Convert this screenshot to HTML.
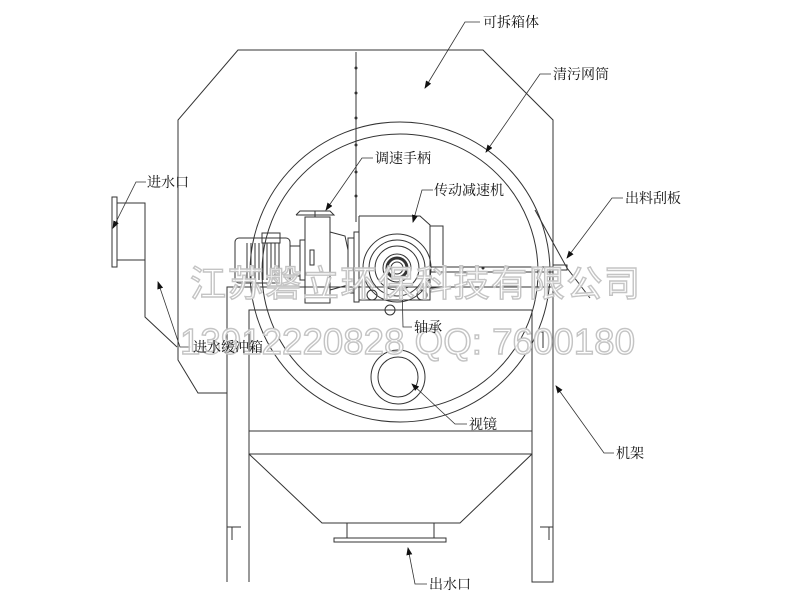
<!DOCTYPE html>
<html><head><meta charset="utf-8"><style>
html,body{margin:0;padding:0;background:#fff;}
svg{display:block;}
text{font-family:"Liberation Serif","Noto Serif CJK SC","Noto Sans CJK SC",serif;font-size:14px;fill:#111;}
text.wm{font-family:"Liberation Sans","Noto Sans CJK SC",sans-serif;fill:#fff;fill-opacity:0.85;stroke:#c4c4c4;stroke-width:1.4;font-size:36px;}
</style></head><body>
<svg width="800" height="600" viewBox="0 0 800 600" xmlns="http://www.w3.org/2000/svg">
<defs><marker id="a" markerWidth="8" markerHeight="6" refX="7" refY="3" orient="auto" markerUnits="userSpaceOnUse"><path d="M0,0 L8,3 L0,6 z" fill="#111"/></marker></defs>
<g fill="none" stroke="#333" stroke-width="1">
<polyline points="227,393 198,393 178,360 178,120 238,50 483,50 553,120 553,582 532,582 532,310"/>
<polyline points="227,582 227,287 553,287"/>
<polyline points="249,582 249,310 532,310"/>
<line x1="249" y1="431" x2="532" y2="431"/>
<polyline points="249,454 532,454"/>
<polyline points="249,454 322,523 460,523 532,454"/>
<rect x="347" y="523" width="87" height="15"/>
<rect x="334" y="538" width="112" height="4"/>
<polyline points="227,527 241,527"/><polyline points="232,527 232,540"/>
<polyline points="540,527 553,527"/><polyline points="549,527 549,540"/>
<polyline points="536,332 543,332 543,348"/>
<polyline points="140,203 145,203 145,317 177,347"/>
<rect x="117" y="203" width="28" height="57"/>
<rect x="112" y="197" width="5" height="70"/>
<circle cx="400" cy="272" r="150"/>
<circle cx="400" cy="272" r="138"/>
<circle cx="398" cy="377" r="27"/>
<circle cx="398" cy="377" r="20"/>
<line x1="356" y1="52" x2="356" y2="222"/>
<rect x="235" y="238" width="55" height="45" rx="4"/>
<rect x="262" y="233" width="18" height="10"/>
<line x1="247" y1="243" x2="247" y2="280"/>
<line x1="251" y1="243" x2="251" y2="280"/><line x1="255" y1="243" x2="255" y2="280"/>
<line x1="259" y1="243" x2="259" y2="280"/><line x1="263" y1="243" x2="263" y2="280"/>
<line x1="267" y1="243" x2="267" y2="280"/><line x1="271" y1="243" x2="271" y2="280"/>
<line x1="275" y1="243" x2="275" y2="280"/><line x1="279" y1="243" x2="279" y2="280"/>
<rect x="290" y="246" width="10" height="30"/>
<rect x="300" y="240" width="5" height="40"/>
<rect x="305" y="217" width="25" height="86"/>
<rect x="310" y="250" width="4" height="15"/>
<polyline points="296,215 300,211 330,211 334,215 296,215"/>
<line x1="315" y1="211" x2="315" y2="217"/>
<polyline points="330,232 345,236 348,250 348,285 330,290"/>
<rect x="348" y="238" width="6" height="55"/>
<rect x="354" y="232" width="5" height="70"/>
<polyline points="359,216 420,216 430,225 430,300 359,300 359,216"/>
<polyline points="430,226 443,226 443,288 430,288"/>
<circle cx="397" cy="268" r="34"/>
<circle cx="397" cy="268" r="28"/>
<circle cx="397" cy="268" r="22"/>
<circle cx="397" cy="268" r="14"/>
<circle cx="397" cy="268" r="10" stroke-width="3"/>
<circle cx="397" cy="268" r="6"/>
<circle cx="372" cy="295" r="5"/><circle cx="422" cy="295" r="5"/>
<circle cx="390" cy="310" r="5"/>
<line x1="430" y1="267" x2="553" y2="267"/>
<line x1="430" y1="272" x2="553" y2="272"/>
<rect x="553" y="265" width="14" height="5"/>
<polyline points="535,210 567,268 590,298"/>
</g>
<g fill="#333">
<circle cx="356" cy="68" r="1.5"/><circle cx="356" cy="93" r="1.5"/><circle cx="356" cy="118" r="1.5"/>
<circle cx="356" cy="145" r="1.5"/><circle cx="356" cy="172" r="1.5"/><circle cx="356" cy="196" r="1.5"/>
<circle cx="462" cy="268" r="1.5"/><circle cx="483" cy="268" r="1.5"/><circle cx="507" cy="268" r="1.5"/><circle cx="533" cy="268" r="1.5"/>
</g>
<g fill="none" stroke="#333" stroke-width="0.8" marker-end="url(#a)">
<polyline points="480,22 465,22 425,88"/>
<polyline points="551,74 540,74 486,152"/>
<polyline points="373,158 362,158 326,210"/>
<polyline points="433,190 422,190 413,222"/>
<polyline points="623,198 612,198 567,258"/>
<polyline points="146,182 136,182 113,228"/>
<polyline points="191,347 180,347 158,282"/>
<polyline points="412,327 403,327 402,284"/>
<polyline points="467,424 455,424 412,384"/>
<polyline points="614,453 604,453 556,386"/>
<polyline points="427,584 415,584 408,548"/>
</g>
<text x="483" y="27">可拆箱体</text>
<text x="553" y="79">清污网筒</text>
<text x="375" y="163">调速手柄</text>
<text x="434" y="195">传动减速机</text>
<text x="625" y="203">出料刮板</text>
<text x="147" y="187">进水口</text>
<text class="wm" x="190" y="296" textLength="450" lengthAdjust="spacing">江苏磐立环保科技有限公司</text>
<text class="wm" x="180" y="354" textLength="455" lengthAdjust="spacingAndGlyphs">13912220828  QQ: 7600180</text>
<text x="193" y="352">进水缓冲箱</text>
<text x="414" y="332">轴承</text>
<text x="469" y="429">视镜</text>
<text x="616" y="458">机架</text>
<text x="429" y="589">出水口</text>
</svg>
</body></html>
